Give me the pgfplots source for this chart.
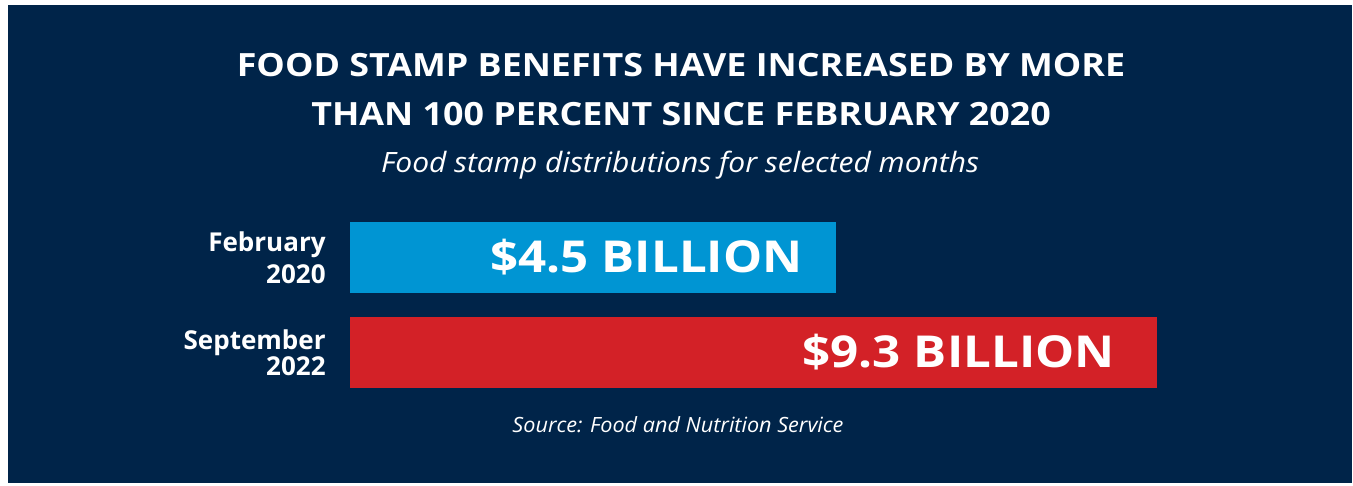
\documentclass[border=0pt]{standalone}
\usepackage{pgfplots}
\pgfplotsset{compat=1.18}
\usepackage{graphicx}
\usepackage{fontspec}
\setmainfont{Open Sans}
\definecolor{navy}{RGB}{0,36,73}
\definecolor{barblue}{RGB}{0,149,211}
\definecolor{barred}{RGB}{211,33,39}
\begin{document}
\begin{tikzpicture}
\fill[white] (0,0) rectangle (676.5pt,-243pt);
\fill[navy] (4pt,-2.5pt) rectangle (676pt,-241.5pt);
\node[font=\bfseries\fontsize{16}{20}\selectfont, text=white, anchor=base, inner sep=0pt] at (340.5pt,-38.5pt) {\scalebox{1.12}[1]{FOOD STAMP BENEFITS HAVE INCREASED BY MORE}};
\node[font=\bfseries\fontsize{16}{20}\selectfont, text=white, anchor=base, inner sep=0pt] at (340.5pt,-63pt) {\scalebox{1.12}[1]{THAN 100 PERCENT SINCE FEBRUARY 2020}};
\node[font=\itshape\fontsize{14}{17}\selectfont, text=white, anchor=base, inner sep=0pt] at (340pt,-86.5pt) {\scalebox{1.07}[1]{Food stamp distributions for selected months}};
\node[font=\itshape\fontsize{10.5}{13}\selectfont, text=white, anchor=base, inner sep=0pt] at (339pt,-216pt) {\scalebox{1.03}[1]{Source: Food and Nutrition Service}};
\begin{axis}[
  at={(175pt,-105pt)}, anchor=north west,
  scale only axis, width=403.5pt, height=95pt,
  xbar, bar width=35.5pt, bar shift=0pt,
  x coord trafo/.code={\pgfmathparse{#1+2.767}},
  x coord inv trafo/.code={\pgfmathparse{#1-2.767}},
  xmin=-2.767, xmax=9.3,
  ymin=-0.5, ymax=1.5, y dir=reverse,
  ytick={0,1},
  yticklabels={{February\\2020},{September\\[-3pt]2022}},
  yticklabel style={align=right, inner sep=0pt, xshift=-12pt, text=white,
    font=\bfseries\fontsize{13}{16}\selectfont},
  xtick=\empty, major tick length=0pt,
  axis line style={draw=none},
  clip=false,
]
\addplot[fill=barblue, draw=none,
  nodes near coords={\scalebox{1.12}[1]{\$4.5 BILLION}},
  every node near coord/.style={anchor=base east, xshift=-14.5pt, yshift=-7.25pt,
    inner sep=2pt, text=white, font=\bfseries\fontsize{22}{26}\selectfont}]
  coordinates {(4.5,0)};
\addplot[fill=barred, draw=none,
  nodes near coords={\scalebox{1.12}[1]{\$9.3 BILLION}},
  every node near coord/.style={anchor=base east, xshift=-19pt, yshift=-7.25pt,
    inner sep=2pt, text=white, font=\bfseries\fontsize{22}{26}\selectfont}]
  coordinates {(9.3,1)};
\end{axis}
\end{tikzpicture}
\end{document}
